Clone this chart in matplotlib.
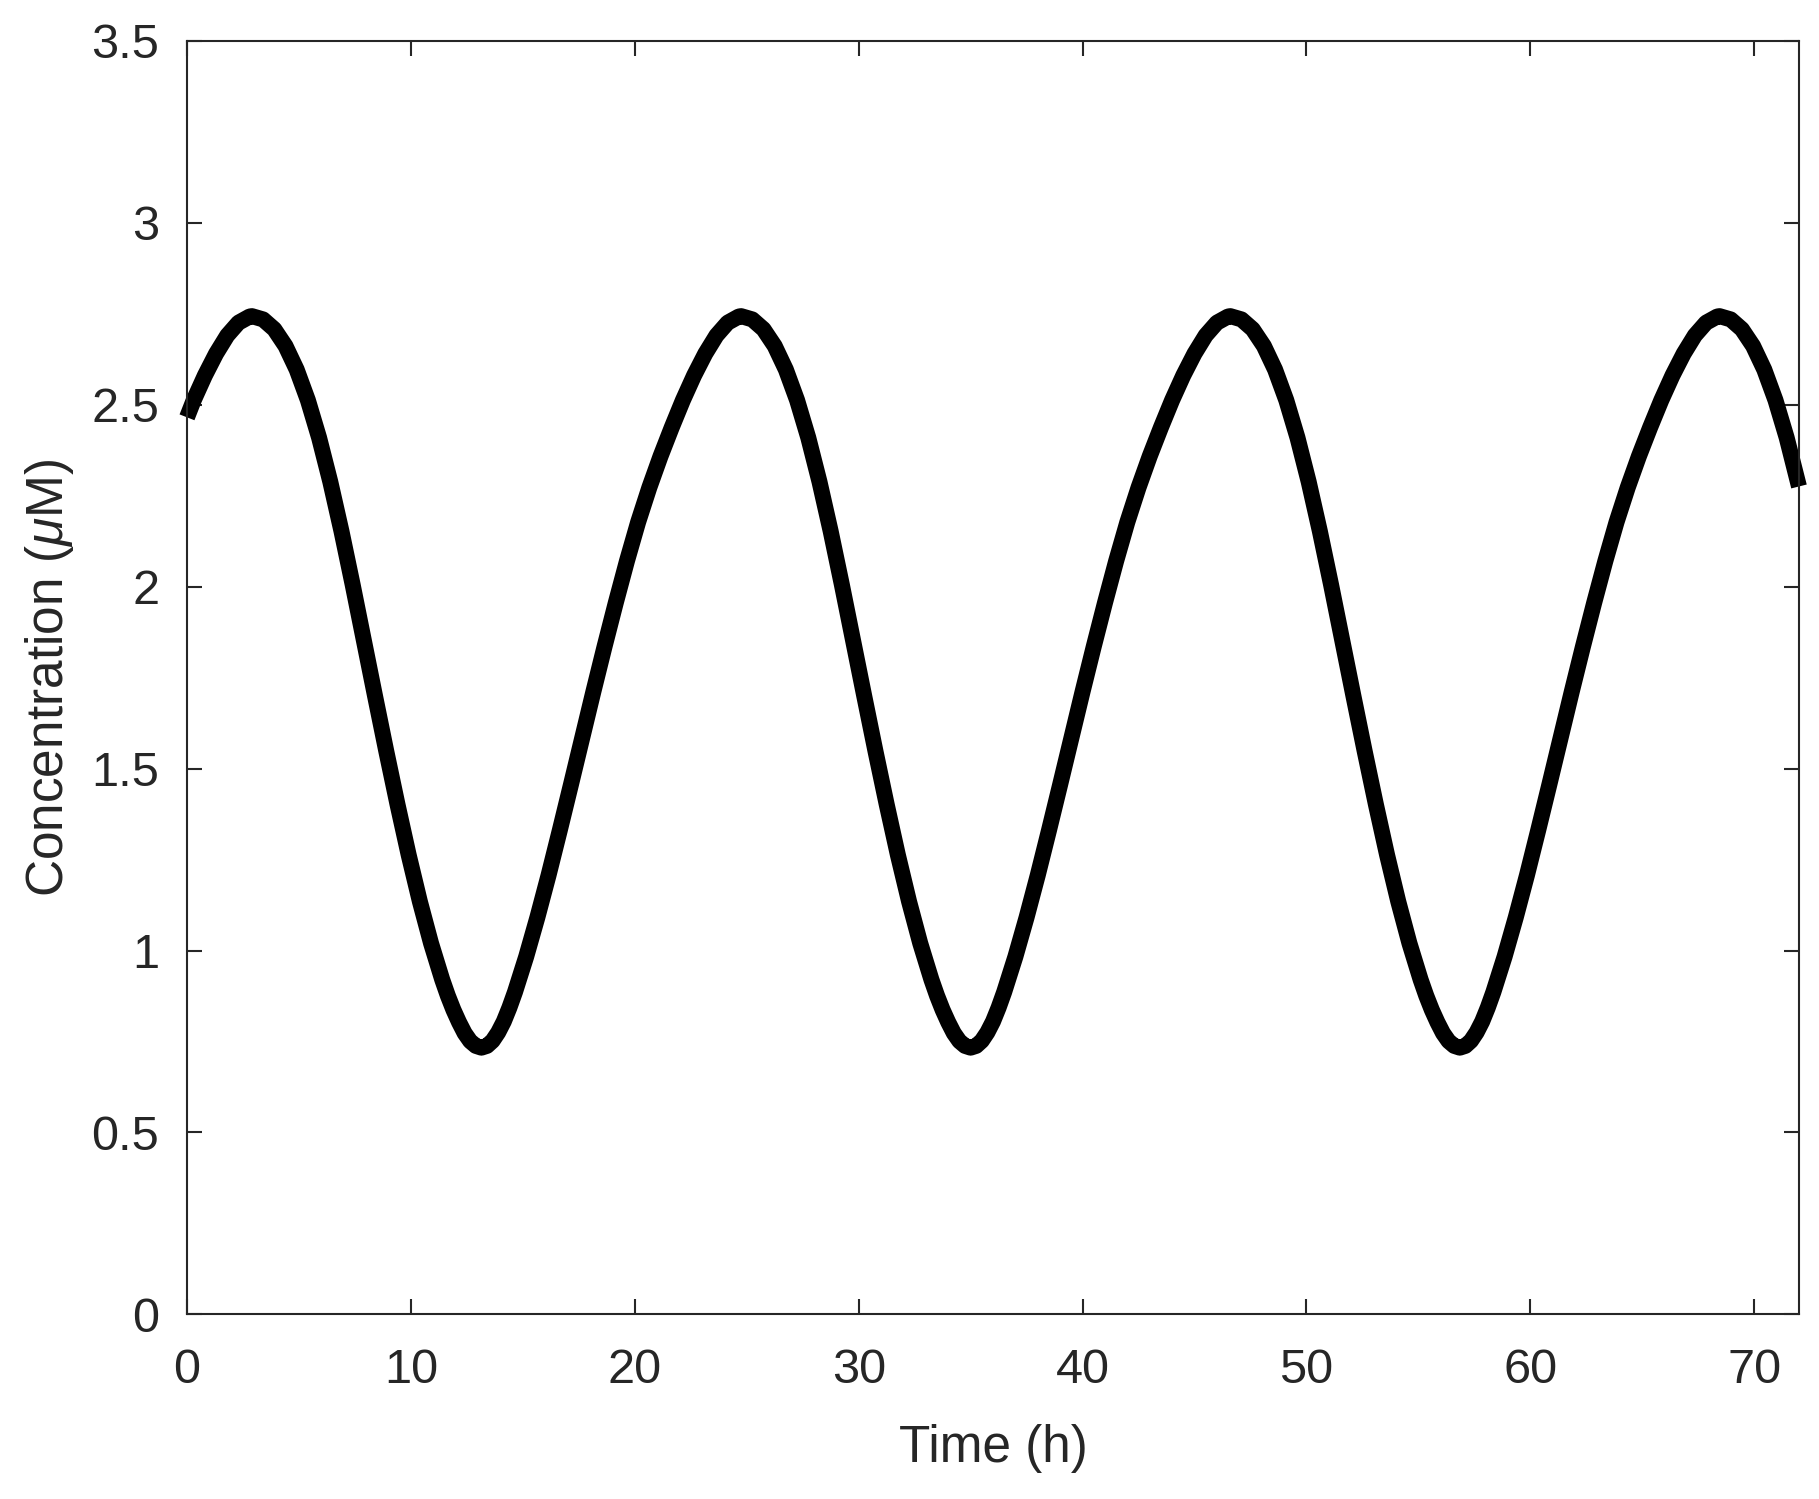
import matplotlib
matplotlib.use('Agg')
import matplotlib.pyplot as plt
from matplotlib.ticker import FuncFormatter

# Readings of the curve, segment by segment (time in h, concentration in uM)
t_start = [0.0, 0.3, 0.8, 1.3, 1.8, 2.3, 2.8]
c_start = [2.465, 2.512, 2.580, 2.640, 2.690, 2.725, 2.742]

# falling limbs (peak -> trough)
t_fall_1 = [2.9, 3.4, 3.9, 4.4, 4.9, 5.4, 5.9, 6.4, 6.9, 7.4, 7.9, 8.4, 8.9,
            9.4, 9.9, 10.4, 10.9, 11.4, 11.65, 11.9, 12.15, 12.4, 12.65, 12.9, 13.15]
t_fall_2 = [24.75, 25.25, 25.75, 26.25, 26.75, 27.25, 27.75, 28.25, 28.75, 29.25,
            29.75, 30.25, 30.75, 31.25, 31.75, 32.25, 32.75, 33.25, 33.5, 33.75,
            34.0, 34.25, 34.5, 34.75, 35.0]
t_fall_3 = [46.6, 47.1, 47.6, 48.1, 48.6, 49.1, 49.6, 50.1, 50.6, 51.1, 51.6,
            52.1, 52.6, 53.1, 53.6, 54.1, 54.6, 55.1, 55.35, 55.6, 55.85, 56.1,
            56.35, 56.6, 56.85]
c_fall = [2.743, 2.734, 2.707, 2.661, 2.596, 2.512, 2.409, 2.288, 2.152, 2.005,
          1.852, 1.699, 1.548, 1.402, 1.263, 1.135, 1.020, 0.920, 0.876, 0.837,
          0.803, 0.773, 0.751, 0.738, 0.733]

# rising limbs (trough -> peak)
t_rise_1 = [13.4, 13.65, 13.9, 14.15, 14.4, 14.65, 15.15, 15.65, 16.15, 16.65,
            17.15, 17.65, 18.15, 18.65, 19.15, 19.65, 20.15, 20.65, 21.15, 21.65,
            22.15, 22.65, 23.15, 23.65, 24.15, 24.65]
t_rise_2 = [35.25, 35.5, 35.75, 36.0, 36.25, 36.5, 37.0, 37.5, 38.0, 38.5, 39.0,
            39.5, 40.0, 40.5, 41.0, 41.5, 42.0, 42.5, 43.0, 43.5, 44.0, 44.5,
            45.0, 45.5, 46.0, 46.5]
t_rise_3 = [57.1, 57.35, 57.6, 57.85, 58.1, 58.35, 58.85, 59.35, 59.85, 60.35,
            60.85, 61.35, 61.85, 62.35, 62.85, 63.35, 63.85, 64.35, 64.85, 65.35,
            65.85, 66.35, 66.85, 67.35, 67.85, 68.35]
c_rise = [0.738, 0.752, 0.775, 0.805, 0.843, 0.886, 0.983, 1.091, 1.207, 1.330,
          1.456, 1.584, 1.711, 1.835, 1.955, 2.070, 2.177, 2.272, 2.358, 2.437,
          2.512, 2.580, 2.640, 2.690, 2.725, 2.742]

t_end = [68.45, 68.95, 69.45, 69.95, 70.45, 70.95, 71.45, 72.0]
c_end = [2.743, 2.734, 2.707, 2.661, 2.596, 2.512, 2.409, 2.275]

time_h = (t_start + t_fall_1 + t_rise_1 + t_fall_2 + t_rise_2
          + t_fall_3 + t_rise_3 + t_end)
conc_uM = (c_start + c_fall + c_rise + c_fall + c_rise
           + c_fall + c_rise + c_end)

x_ticks = [0, 10, 20, 30, 40, 50, 60, 70]
y_ticks = [0, 0.5, 1, 1.5, 2, 2.5, 3, 3.5]

plt.rcParams['font.family'] = ['Liberation Sans', 'DejaVu Sans']
plt.rcParams['mathtext.fontset'] = 'custom'
plt.rcParams['mathtext.rm'] = 'Liberation Sans'
plt.rcParams['mathtext.it'] = 'Liberation Sans:italic'

TXT = '#262626'

fig = plt.figure(figsize=(18.19, 14.99), dpi=100)
ax = fig.add_axes([0.1028, 0.1231, 0.8862, 0.8498])

ax.plot(time_h, conc_uM, color='black', linewidth=11.5,
        solid_capstyle='butt', solid_joinstyle='round', clip_on=False)

ax.set_xlim(0, 72)
ax.set_ylim(0, 3.5)
ax.set_xticks(x_ticks)
ax.set_yticks(y_ticks)
ax.yaxis.set_major_formatter(FuncFormatter(lambda v, p: f'{v:g}'))

for sp in ax.spines.values():
    sp.set_linewidth(1.5)
    sp.set_color(TXT)

ax.tick_params(axis='both', direction='in', top=True, right=True,
               length=11, width=1.5, color=TXT, labelsize=35, labelcolor=TXT)
ax.tick_params(axis='x', pad=24)
ax.tick_params(axis='y', pad=20)

ax.set_xlabel('Time (h)', fontsize=37, color=TXT)
ax.set_ylabel(r'Concentration ($\mu$M)', fontsize=37, color=TXT)
ax.xaxis.label.set_va('center')
ax.xaxis.set_label_coords(0.5, -0.1056)
ax.yaxis.label.set_va('center')
ax.yaxis.set_label_coords(-0.0855, 0.5)

fig.savefig('out.png', dpi=100)
plt.close(fig)
